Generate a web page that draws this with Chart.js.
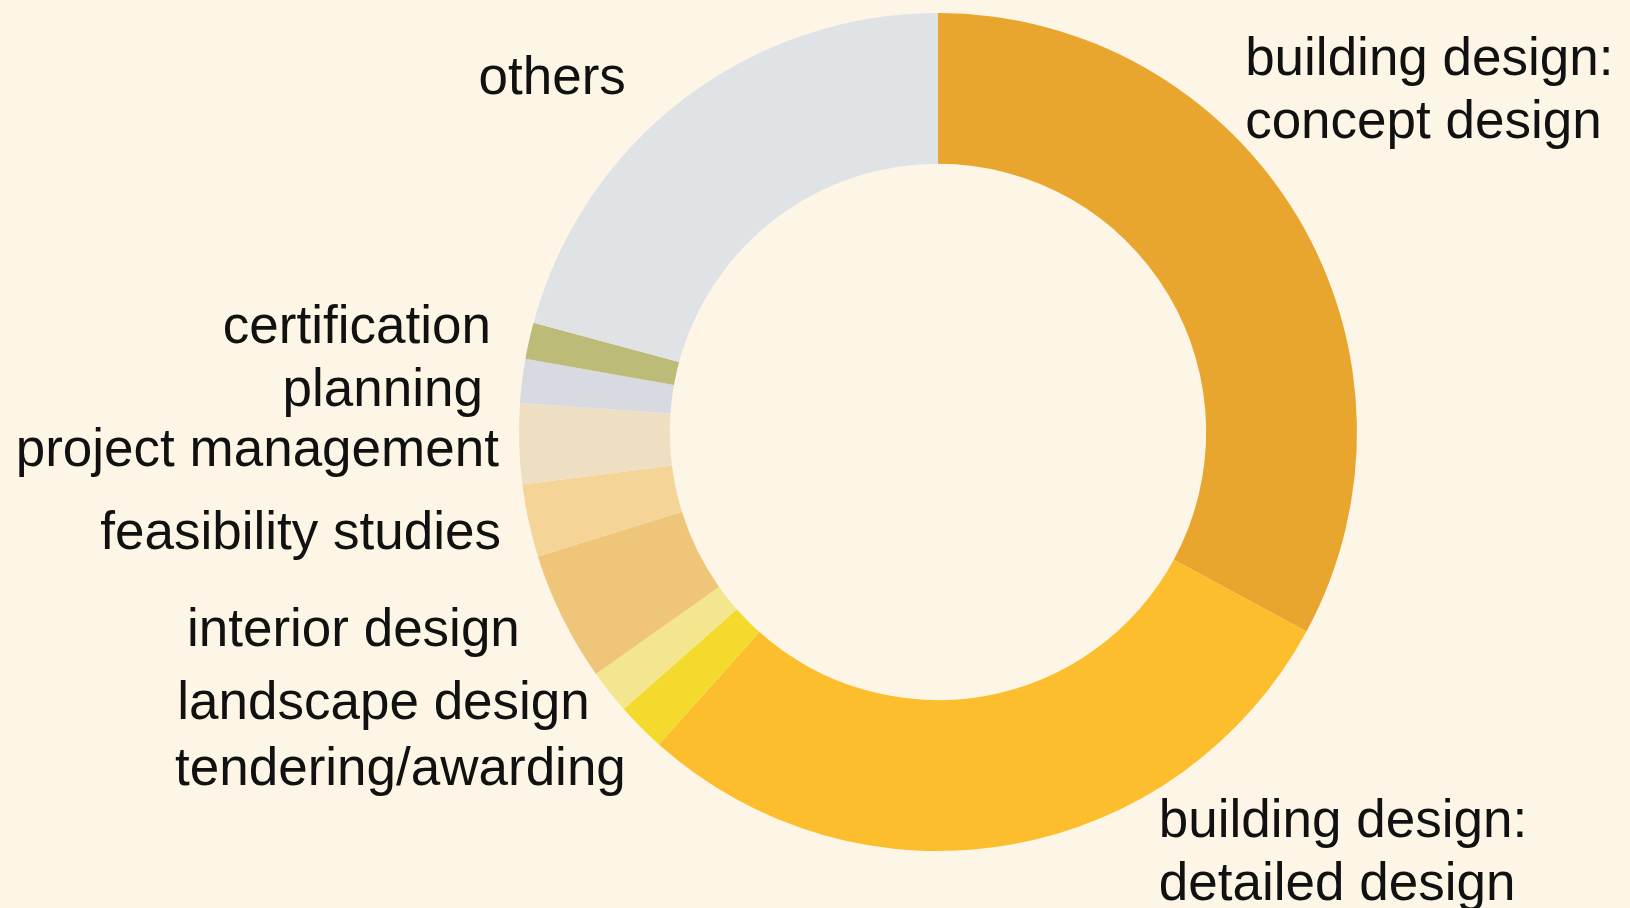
<!DOCTYPE html>
<html lang="en">
<head>
<meta charset="utf-8">
<title>Services by share</title>
<script src="https://cdn.jsdelivr.net/npm/chart.js@4.4.1/dist/chart.umd.min.js"></script>
<style>
    html, body { margin: 0; padding: 0; background: #FDF6E6; }
    #wrap { width: 1630px; height: 908px; }
</style>
</head>
<body>
<div id="wrap"><canvas id="servicesChart" width="1630" height="908"></canvas></div>
<script>
// slices, clockwise from 12 o'clock
const categories = [
    'building design: concept design',
    'building design: detailed design',
    'tendering/awarding',
    'landscape design',
    'interior design',
    'feasibility studies',
    'project management',
    'planning',
    'certification',
    'others'
];
const shares = [32.9, 28.7, 1.9, 1.7, 5.0, 2.8, 3.1, 1.7, 1.4, 20.8];
const sliceColors = [
    '#E8A62E', '#FCBE2C', '#F4DA2C', '#F3E68E', '#EFC679',
    '#F4D597', '#EFDFC2', '#D7DAE0', '#BDBB78', '#DFE3E6'
];

// where each label sits, relative to the centre, in units of the outer radius
const labelAnchors = [
    { dx: 0.733, dy: -0.811, align: 'left' },
    { dx: 0.527, dy: 1.008, align: 'left' },
    { dx: -0.745, dy: 0.807, align: 'right' },
    { dx: -0.831, dy: 0.650, align: 'right' },
    { dx: -0.998, dy: 0.475, align: 'right' },
    { dx: -1.043, dy: 0.244, align: 'right' },
    { dx: -1.048, dy: 0.046, align: 'right' },
    { dx: -1.086, dy: -0.097, align: 'right' },
    { dx: -1.067, dy: -0.248, align: 'right' },
    { dx: -0.745, dy: -0.842, align: 'right' }
];
const lineGap = 63;

// "building design: xxx" is written on two lines
function splitLabel(name) {
    const k = name.indexOf(': ');
    return k < 0 ? [name] : [name.slice(0, k + 1), name.slice(k + 2)];
}

const outsideLabels = {
    id: 'outsideLabels',
    afterDatasetsDraw(chart) {
        const arc = chart.getDatasetMeta(0).data[0];
        const { x, y, outerRadius } = arc.getProps(['x', 'y', 'outerRadius'], true);
        const ctx = chart.ctx;
        ctx.save();
        ctx.font = '53px "Liberation Sans", Arial, sans-serif';
        ctx.fillStyle = '#111111';
        ctx.textBaseline = 'middle';
        categories.forEach((name, i) => {
            const a = labelAnchors[i];
            const lines = splitLabel(name);
            const lx = x + a.dx * outerRadius;
            const ly = y + a.dy * outerRadius;
            ctx.textAlign = a.align;
            lines.forEach((t, k) => {
                ctx.fillText(t, lx, ly + (k - (lines.length - 1) / 2) * lineGap);
            });
        });
        ctx.restore();
    }
};

new Chart(document.getElementById('servicesChart'), {
    type: 'doughnut',
    data: {
        labels: categories,
        datasets: [{
            data: shares,
            backgroundColor: sliceColors,
            borderWidth: 0,
            hoverOffset: 0
        }]
    },
    options: {
        responsive: false,
        animation: false,
        cutout: '64%',
        layout: { padding: { left: 519, right: 273, top: 13, bottom: 57 } },
        plugins: {
            legend: { display: false },
            tooltip: { enabled: false }
        }
    },
    plugins: [outsideLabels]
});
</script>
</body>
</html>
